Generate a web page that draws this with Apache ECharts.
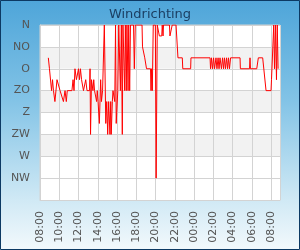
<!DOCTYPE html>
<html>
<head>
<meta charset="utf-8">
<script src="https://cdn.jsdelivr.net/npm/echarts@6/dist/echarts.min.js"></script>
<style>
html,body{margin:0;padding:0;background:#fff;}
#c{width:300px;height:250px;}
</style>
</head>
<body>
<div id="c"></div>
<script>
// Compass labels for the y axis (0°, 45°, ... 315°)
const directionLabels = ['N', 'NO', 'O', 'ZO', 'Z', 'ZW', 'W', 'NW'];
// X tick labels every 2 hours from 08:00
const timeTickLabels = ['08:00','10:00','12:00','14:00','16:00','18:00','20:00','22:00','00:00','02:00','04:00','06:00','08:00'];

// Measurement times (local clock) and wind direction in degrees
const times = [
  '08:52','08:59','09:05','09:12','09:18','09:24','09:33','09:46','09:55','10:05',
  '10:17','10:26','10:36','10:44','10:50','11:19','11:26','11:32','11:38','11:47',
  '11:54','12:00','12:06','12:12','12:19','12:25','12:31','12:40','12:45','12:50',
  '12:53','13:09','13:12','13:15','13:21','13:30','13:35','13:40','13:49','13:53',
  '13:57','14:02','14:10','14:18','14:23','14:30','14:35','14:41','14:50','14:56',
  '15:02','15:08','15:16','15:21','15:24','15:31','15:35','15:41','15:46','15:51',
  '15:55','16:05','16:11','16:21','16:27','16:33','16:37','16:44','16:48','16:52',
  '16:58','17:02','17:09','17:13','17:19','17:24','17:43','17:48','17:54','18:36',
  '18:39','18:45','18:53','19:04','19:29','19:32','19:35','19:40','19:46','19:59',
  '20:04','20:11','20:21','20:24','20:39','20:42','20:47','20:50','21:27','21:30',
  '21:41','21:44','22:08','22:20','22:47','22:50','23:39','23:41','01:40','01:43',
  '01:49','01:55','02:02','02:08','02:17','02:23','02:30','02:36','02:42','02:51',
  '02:58','03:04','03:10','03:16','03:23','03:29','03:35','03:41','03:48','04:47',
  '04:49','05:46','05:49','05:52','06:31','06:41','07:08','07:29','08:00','08:03',
  '08:12','08:17','08:22','08:28','08:34','08:39','08:44'
];
const directions = [
  67.5,90,90,135,112.5,135,157.5,112.5,112.5,135,
  135,157.5,135,157.5,135,135,112.5,135,90,112.5,
  112.5,90,112.5,90,112.5,112.5,135,135,112.5,112.5,
  135,135,90,225,112.5,135,112.5,135,135,157.5,
  135,157.5,202.5,112.5,157.5,135,135,0,202.5,157.5,
  225,157.5,225,157.5,225,157.5,135,135,157.5,0,
  202.5,135,0,135,0,225,0,0,135,0,
  135,0,135,0,135,0,0,90,0,0,
  45,45,67.5,90,90,135,90,135,0,0,
  315,0,0,22.5,22.5,0,22.5,0,0,22.5,
  22.5,0,0,67.5,67.5,90,90,67.5,67.5,90,
  67.5,90,67.5,90,67.5,90,67.5,90,67.5,90,
  67.5,90,67.5,90,67.5,90,67.5,90,67.5,67.5,
  90,90,67.5,90,90,67.5,67.5,135,135,112.5,
  112.5,0,90,0,112.5,0,90
];

// minutes since 08:00 on the first day
function toMinutes(list) {
  const out = [];
  let offset = 0, prev = -1;
  list.forEach(t => {
    const [h, m] = t.split(':').map(Number);
    const abs = h * 60 + m;
    if (abs < prev) offset += 1440;
    prev = abs;
    out.push(abs + offset - 480);
  });
  return out;
}
const xs = toMinutes(times);
const seriesData = xs.map((x, i) => [x, directions[i]]);

const chart = echarts.init(document.getElementById('c'), null, {renderer: 'canvas'});
const font = 'DejaVu Sans, Verdana, sans-serif';
chart.setOption({
  animation: false,
  backgroundColor: {
    type: 'linear', x: 0, y: 0, x2: 0, y2: 1,
    colorStops: [
      {offset: 0, color: '#4ea5d9'},
      {offset: 0.4, color: '#82c3e6'},
      {offset: 0.8, color: '#d0e9f5'},
      {offset: 1, color: '#f3f9fc'}
    ]
  },
  graphic: [{
    type: 'rect', z: 100, silent: true,
    shape: {x: 0.5, y: 0.5, width: 299, height: 249},
    style: {fill: 'none', stroke: '#0c3963', lineWidth: 1}
  }],
  title: {
    text: 'Windrichting', left: 'center', top: 3,
    textStyle: {fontFamily: font, fontSize: 13, fontWeight: 'normal', color: '#1b3f63'}
  },
  grid: {
    left: 40, right: 20, top: 25, bottom: 50,
    show: true, backgroundColor: '#ffffff', borderColor: '#d3d3d3', borderWidth: 1
  },
  xAxis: {
    type: 'value', min: 0, max: 1496, interval: 120,
    axisLine: {show: true, onZero: false, lineStyle: {color: '#d3d3d3'}},
    axisTick: {show: false},
    splitLine: {show: true, lineStyle: {color: '#d3d3d3', width: 1}},
    axisLabel: {
      rotate: 90, margin: 11, showMaxLabel: false,
      fontFamily: font, fontSize: 11, color: '#555',
      formatter: v => { const i = Math.round(v / 120); return (v % 120 === 0 && timeTickLabels[i]) ? timeTickLabels[i] : ''; }
    }
  },
  yAxis: {
    type: 'value', min: 0, max: 360, interval: 45, inverse: true,
    axisLine: {show: true, lineStyle: {color: '#d3d3d3'}},
    axisTick: {show: false},
    splitLine: {show: true, lineStyle: {color: '#d3d3d3', width: 1}},
    splitArea: {show: true, areaStyle: {color: ['#ffffff','#f2f2f2','#ffffff','#f2f2f2','#ffffff','#f2f2f2','#ffffff','#ffffff']}},
    axisLabel: {
      margin: 10, fontFamily: font, fontSize: 11, color: '#555',
      formatter: v => { const i = Math.round(v / 45); return i < directionLabels.length ? directionLabels[i] : ''; }
    }
  },
  series: [{
    type: 'line', data: seriesData, showSymbol: false, symbol: 'none',
    lineStyle: {color: '#ff0000', width: 1}, clip: true
  }]
});
</script>
</body>
</html>
